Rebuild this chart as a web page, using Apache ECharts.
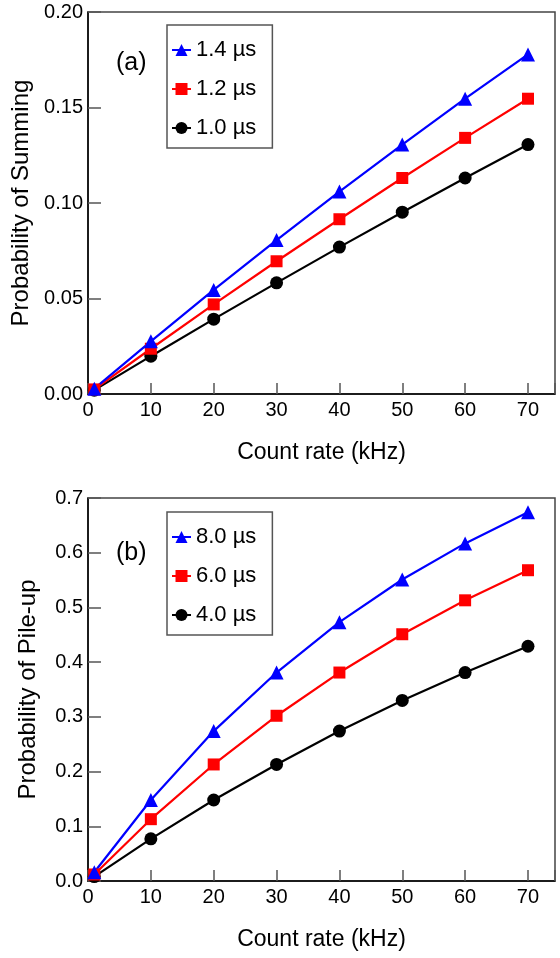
<!DOCTYPE html>
<html>
<head>
<meta charset="utf-8">
<script src="https://cdn.jsdelivr.net/npm/echarts@6/dist/echarts.min.js"></script>
<style>
  html, body { margin: 0; padding: 0; background: #fff; }
  #chart { width: 560px; height: 958px; }
</style>
</head>
<body>
<div id="chart"></div>
<script>
// Count rate in kHz (shared by both panels)
const countRate = [1, 10, 20, 30, 40, 50, 60, 70];
const xTicks = [0, 10, 20, 30, 40, 50, 60, 70];

// Panel (a): probability of summing for three resolving times
const sumNames = ['1.4 µs', '1.2 µs', '1.0 µs'];
const sum14 = [0.0028, 0.0276, 0.0545, 0.0806, 0.1060, 0.1306, 0.1546, 0.1778];
const sum12 = [0.0024, 0.0237, 0.0469, 0.0695, 0.0915, 0.1131, 0.1341, 0.1546];
const sum10 = [0.0020, 0.0198, 0.0392, 0.0582, 0.0769, 0.0952, 0.1131, 0.1306];
const sumTicks = [0.00, 0.05, 0.10, 0.15, 0.20];

// Panel (b): probability of pile-up for three shaping times
const pileNames = ['8.0 µs', '6.0 µs', '4.0 µs'];
const pile80 = [0.0159, 0.148, 0.274, 0.381, 0.473, 0.551, 0.617, 0.674];
const pile60 = [0.0119, 0.113, 0.213, 0.302, 0.381, 0.451, 0.513, 0.568];
const pile40 = [0.0080, 0.077, 0.148, 0.213, 0.274, 0.330, 0.381, 0.429];
const pileTicks = [0.0, 0.1, 0.2, 0.3, 0.4, 0.5, 0.6, 0.7];

const FONT = '"Liberation Sans", Arial, Helvetica, sans-serif';
const BLUE = '#0000ff', RED = '#ff0000', BLACK = '#000000';

function pairs(ys) { return countRate.map((x, i) => [x, ys[i]]); }

function xAxisFor(gridIndex) {
  return {
    type: 'value', gridIndex: gridIndex,
    min: 0, max: 74.3, interval: 10,
    name: 'Count rate (kHz)', nameLocation: 'middle', nameGap: 47,
    nameTextStyle: { fontFamily: FONT, fontSize: 23, color: '#000' },
    axisLine: { show: true, lineStyle: { color: '#000', width: 1.5 } },
    axisTick: { show: true, inside: true, length: 11, lineStyle: { color: '#555', width: 1.5 } },
    axisLabel: {
      fontFamily: FONT, fontSize: 20, color: '#000', margin: 6,
      formatter: v => xTicks.includes(v) ? String(v) : ''
    },
    splitLine: { show: false }
  };
}

function yAxisFor(gridIndex, ticks, step, digits, title) {
  return {
    type: 'value', gridIndex: gridIndex,
    min: ticks[0], max: ticks[ticks.length - 1], interval: step,
    name: title, nameLocation: 'middle', nameGap: 48,
    nameTextStyle: { fontFamily: FONT, fontSize: 24, color: '#000' },
    axisLine: { show: true, lineStyle: { color: '#000', width: 1.5 } },
    axisTick: { show: true, inside: true, length: 13, lineStyle: { color: '#555', width: 1.5 } },
    axisLabel: {
      fontFamily: FONT, fontSize: 20, color: '#000', margin: 5,
      formatter: v => v.toFixed(digits)
    },
    splitLine: { show: false }
  };
}

function lineSeries(name, ys, color, symbol, size, idx) {
  return {
    type: 'line', name: name, data: pairs(ys),
    xAxisIndex: idx, yAxisIndex: idx,
    symbol: symbol, symbolSize: size,
    lineStyle: { color: color, width: 2.2 },
    itemStyle: { color: color, borderWidth: 0 },
    emphasis: { disabled: true },
    animation: false
  };
}

function legendFor(names, top) {
  return {
    data: names, orient: 'vertical',
    left: 167, top: top,
    itemWidth: 19, itemHeight: 15, itemGap: 17,
    padding: [14, 16, 9, 4],
    borderColor: '#555', borderWidth: 1.5, backgroundColor: '#fff',
    textStyle: { fontFamily: FONT, fontSize: 22, color: '#000' },
    selectedMode: false
  };
}

const chart = echarts.init(document.getElementById('chart'), null, { renderer: 'canvas' });
chart.setOption({
  animation: false,
  backgroundColor: '#fff',
  title: [
    { text: '(a)', left: 111, top: 46, textStyle: { fontFamily: FONT, fontSize: 25, fontWeight: 'normal', color: '#000' } },
    { text: '(b)', left: 111, top: 536, textStyle: { fontFamily: FONT, fontSize: 25, fontWeight: 'normal', color: '#000' } }
  ],
  grid: [
    { left: 88, top: 12, width: 467, height: 382, show: true, borderColor: '#444', borderWidth: 1.5, backgroundColor: 'transparent' },
    { left: 88, top: 498, width: 467, height: 383, show: true, borderColor: '#444', borderWidth: 1.5, backgroundColor: 'transparent' }
  ],
  xAxis: [xAxisFor(0), xAxisFor(1)],
  yAxis: [
    yAxisFor(0, sumTicks, 0.05, 2, 'Probability of Summing'),
    yAxisFor(1, pileTicks, 0.1, 1, 'Probability of Pile-up')
  ],
  legend: [legendFor(sumNames, 25), legendFor(pileNames, 512)],
  series: [
    lineSeries(sumNames[2], sum10, BLACK, 'circle', 13, 0),
    lineSeries(sumNames[1], sum12, RED, 'rect', 12, 0),
    lineSeries(sumNames[0], sum14, BLUE, 'triangle', 14, 0),
    lineSeries(pileNames[2], pile40, BLACK, 'circle', 13, 1),
    lineSeries(pileNames[1], pile60, RED, 'rect', 12, 1),
    lineSeries(pileNames[0], pile80, BLUE, 'triangle', 14, 1)
  ]
});
</script>
</body>
</html>
